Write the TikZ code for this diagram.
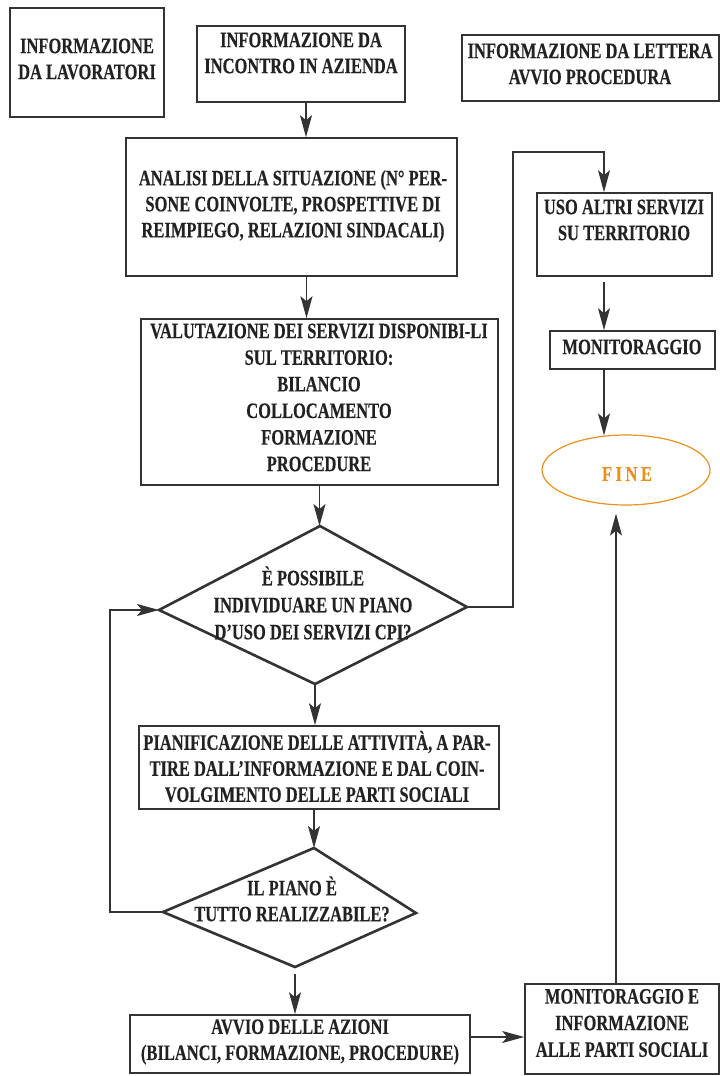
\documentclass[tikz,border=0pt]{standalone}
\usepackage{fontspec}
\usetikzlibrary{arrows.meta,shapes.geometric}
\newfontfamily\lblfont[FakeStretch=0.75,FakeBold=0.3]{Liberation Serif}
\newfontfamily\finefont[FakeStretch=0.8,FakeBold=0.2,LetterSpace=16]{Liberation Serif}
\definecolor{linec}{HTML}{333333}
\definecolor{textc}{HTML}{222222}
\definecolor{orangec}{HTML}{E8921E}
\tikzset{
  box/.style={draw=linec, line width=1.6pt, rectangle, inner sep=0pt},
  txt/.style={text=textc, align=center, inner sep=0pt,
    font=\lblfont\bfseries\fontsize{22}{26}\selectfont},
  wide/.style={font=\lblfont\bfseries\fontsize{22}{26.6}\selectfont},
  ln/.style={draw=linec, line width=1.6pt},
  arr/.style={draw=linec, line width=1.6pt,
    -{Stealth[length=22pt,width=12pt,inset=5pt]}},
  dia/.style={draw=linec, line width=2.6pt, line join=miter},
}
\begin{document}
\begin{tikzpicture}[x=1pt,y=-1pt]
\useasboundingbox (0,0) rectangle (720,1076);

% top row of information sources
\node[box, minimum width=154pt, minimum height=109pt] (b1) at (87,62.5) {};
\node[txt] (b1t) at (87,59) {INFORMAZIONE\\DA LAVORATORI};
\node[box, minimum width=208pt, minimum height=76pt] (b2) at (301,64) {};
\node[txt] (b2t) at (301,53) {INFORMAZIONE DA\\INCONTRO IN AZIENDA};
\node[box, minimum width=257pt, minimum height=66pt] (b3) at (590.5,68) {};
\node[txt] (b3t) at (590,64) {INFORMAZIONE DA LETTERA\\AVVIO PROCEDURA};

% main column
\node[box, minimum width=331pt, minimum height=138pt] (b4) at (291.5,207) {};
\node[txt] (b4t) at (293,206) {ANALISI DELLA SITUAZIONE (N° PER-\\SONE COINVOLTE, PROSPETTIVE DI\\REIMPIEGO, RELAZIONI SINDACALI)};
\node[box, minimum width=357pt, minimum height=166pt] (b5) at (319.5,402) {};
\node[txt, wide] (b5t) at (319,397.5) {VALUTAZIONE DEI SERVIZI DISPONIBI-LI\\SUL TERRITORIO:\\BILANCIO\\COLLOCAMENTO\\FORMAZIONE\\PROCEDURE};

% first decision
\coordinate (d1t) at (320,526);
\coordinate (d1l) at (159,610);
\coordinate (d1r) at (467,607);
\coordinate (d1b) at (315,684);
\draw[dia] (d1t) -- (d1r) -- (d1b) -- (d1l) -- cycle;
\node[txt, font=\lblfont\bfseries\fontsize{22}{27}\selectfont] (d1txt) at (313,603) {È POSSIBILE\\INDIVIDUARE UN PIANO\\D’USO DEI SERVIZI CPI?};

\node[box, minimum width=360pt, minimum height=83pt] (b6) at (319,767.5) {};
\node[txt] (b6t) at (317,766.5) {PIANIFICAZIONE DELLE ATTIVITÀ, A PAR-\\TIRE DALL’INFORMAZIONE E DAL COIN-\\VOLGIMENTO DELLE PARTI SOCIALI};

% second decision
\coordinate (d2t) at (314,848);
\coordinate (d2l) at (163,912);
\coordinate (d2r) at (416,913);
\coordinate (d2b) at (295,967);
\draw[dia] (d2t) -- (d2r) -- (d2b) -- (d2l) -- cycle;
\node[txt] (d2txt) at (292,899) {IL PIANO È\\TUTTO REALIZZABILE?};

\node[box, minimum width=340pt, minimum height=58pt] (b7) at (300,1044) {};
\node[txt] (b7t) at (300,1042) {AVVIO DELLE AZIONI\\(BILANCI, FORMAZIONE, PROCEDURE)};
\node[box, minimum width=194pt, minimum height=90pt] (b8) at (622,1029) {};
\node[txt, wide] (b8t) at (622,1023) {MONITORAGGIO E\\INFORMAZIONE\\ALLE PARTI SOCIALI};

% right column
\node[box, minimum width=175pt, minimum height=83pt] (uso) at (624.5,234.5) {};
\node[txt] (usot) at (624,220) {USO ALTRI SERVIZI\\SU TERRITORIO};
\node[box, minimum width=165pt, minimum height=38pt] (mon) at (632.5,350) {};
\node[txt] (mont) at (632,347) {MONITORAGGIO};
\node[draw=orangec, line width=1.2pt, ellipse, minimum width=168pt, minimum height=70pt, inner sep=0pt] (fine) at (626,470) {};
\node[text=orangec, inner sep=0pt, font=\finefont\bfseries\fontsize{21}{22}\selectfont] (finet) at (627,474) {FINE};

\coordinate (c5) at (604,152);

% connectors
\draw[arr] ([xshift=5pt]b2.south) -- ([xshift=5pt]b2.south |- b4.north);
\draw[arr] ([xshift=15pt]b4.south) -- ([xshift=15pt]b4.south |- b5.north);
\draw[arr] (b5.south) -- (b5.south |- d1t);
\draw[arr] (d1b) -- (d1b |- b6.north);
\draw[arr] (b6.south -| d2t) -- (d2t);
\draw[arr, shorten <=7pt] (d2b) -- (d2b |- b7.north);
\draw[arr] ([yshift=7pt]b7.east) -- ([yshift=7pt]b7.east -| b8.west);
\draw[arr, shorten >=8pt] ([xshift=-6pt]b8.north) -- ([xshift=-6pt]b8.north |- fine.south);
\draw[arr] (d2l) -- ++(-53,0) |- (d1l);
\draw[arr] (d1r) -- ++(46,0) |- (c5) -- (c5 |- uso.north);
\draw[arr, shorten <=5pt] (uso.south -| c5) -- (mon.north -| c5);
\draw[arr] (mon.south -| c5) -- ([yshift=-1pt]fine.north -| c5);
\end{tikzpicture}
\end{document}
